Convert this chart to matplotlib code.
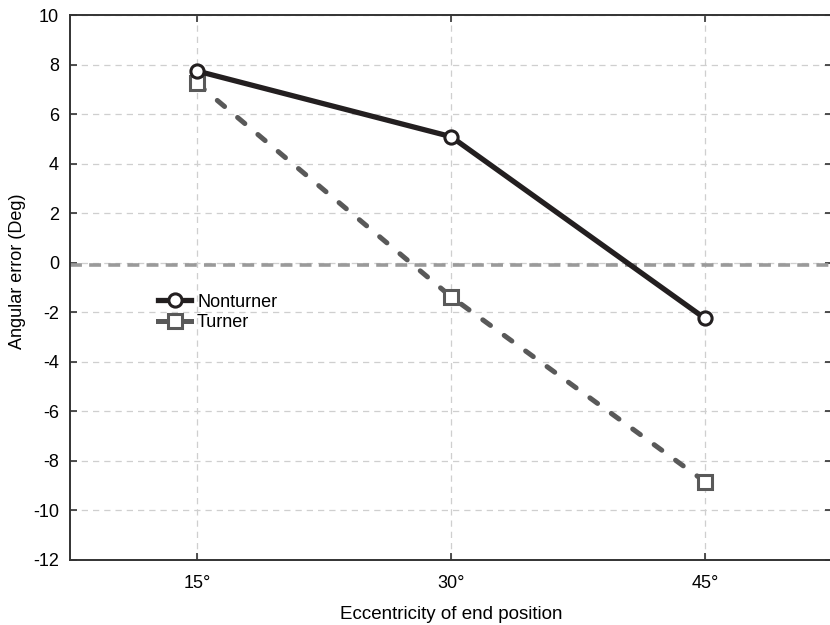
import matplotlib
matplotlib.use("Agg")
import matplotlib.pyplot as plt
from matplotlib.lines import Line2D

plt.rcParams["font.family"] = ["Liberation Sans", "DejaVu Sans"]
plt.rcParams["axes.unicode_minus"] = False

# data
categories = ["15°", "30°", "45°"]
nonturner = [7.74, 5.09, -2.25]
turner = [7.24, -1.37, -8.84]
reference_level = -0.1
y_ticks = list(range(-12, 11, 2))

NONTURNER_COLOR = "#231f20"
TURNER_COLOR = "#595959"
REF_COLOR = "#9a9a9a"
GRID_COLOR = "#cfcfcf"


def main() -> None:
    fig = plt.figure(figsize=(8.3, 6.25), dpi=100)
    ax = fig.add_axes([70 / 830, 1 - 560 / 625, 762 / 830, 545 / 625])

    x = list(range(len(categories)))

    ax.axhline(reference_level, color=REF_COLOR, lw=2.6, ls=(0, (3.3, 2.0)), zorder=2)

    ax.plot(x, turner, color=TURNER_COLOR, lw=3.6, ls=(0, (1.9, 3.4)),
            dash_capstyle="round", marker="s", ms=9.5, mfc="white",
            mec=TURNER_COLOR, mew=2.2, zorder=3)
    ax.plot(x, nonturner, color=NONTURNER_COLOR, lw=3.8,
            marker="o", ms=9.5, mfc="white", mec=NONTURNER_COLOR,
            mew=2.2, zorder=4)

    ax.set_xlim(-0.5, 2.5)
    ax.set_ylim(-12, 10)
    ax.set_xticks(x)
    ax.set_xticklabels(categories)
    ax.set_yticks(y_ticks)

    ax.grid(True, color=GRID_COLOR, ls=(0, (5, 4)), lw=0.9)
    ax.set_axisbelow(True)

    for side in ax.spines.values():
        side.set_color("#333333")
        side.set_linewidth(1.4)

    ax.tick_params(direction="in", length=5, width=1.2, color="#333333",
                   labelsize=13, top=True, right=True, pad=8)
    ax.tick_params(axis="x", pad=11)

    ax.set_xlabel("Eccentricity of end position", fontsize=13.5, labelpad=10)
    ax.set_ylabel("Angular error (Deg)", fontsize=13)
    ax.yaxis.set_label_coords(-0.058, 0.53)

    handles = [
        Line2D([], [], color=NONTURNER_COLOR, lw=3.8, marker="o", ms=9.5,
               mfc="white", mec=NONTURNER_COLOR, mew=2.2),
        Line2D([], [], color=TURNER_COLOR, lw=3.6, marker="s", ms=9.5,
               mfc="white", mec=TURNER_COLOR, mew=2.2),
    ]
    ax.legend(handles, ["Nonturner", "Turner"], loc="upper left",
              bbox_to_anchor=(0.104, 0.505), frameon=False, fontsize=13,
              handlelength=1.8, handletextpad=0.35, labelspacing=0.2,
              borderpad=0)

    fig.savefig("out.png", dpi=100)
    plt.close(fig)


if __name__ == "__main__":
    main()
